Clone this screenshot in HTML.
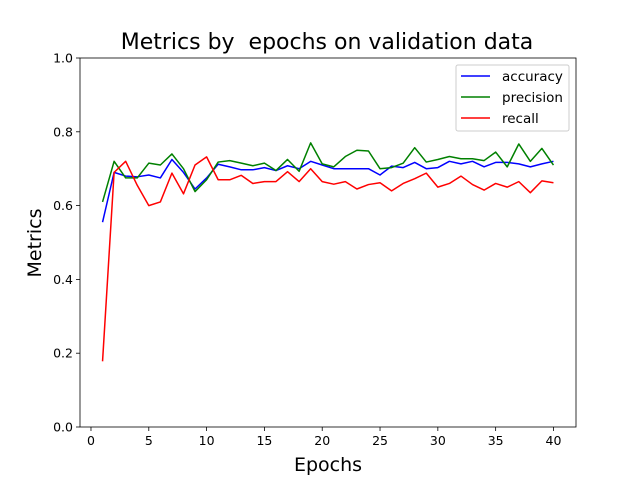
<!DOCTYPE html>
<html><head><meta charset="utf-8"><style>body{margin:0;background:#fff}svg{display:block;font-family:"DejaVu Sans","Liberation Sans",sans-serif}</style></head>
<body>
<svg id="chart" width="640" height="480"></svg>
<script>
const epochs=[];for(let i=1;i<=40;i++)epochs.push(i);
const accuracy=[0.555,0.69,0.68,0.678,0.683,0.675,0.725,0.69,0.645,0.675,0.712,0.705,0.697,0.697,0.703,0.695,0.708,0.7,0.72,0.71,0.7,0.7,0.7,0.7,0.683,0.707,0.703,0.717,0.7,0.703,0.72,0.713,0.72,0.705,0.717,0.717,0.713,0.705,0.713,0.72];
const precision=[0.61,0.72,0.675,0.675,0.715,0.71,0.74,0.7,0.638,0.67,0.718,0.722,0.715,0.708,0.715,0.695,0.725,0.693,0.77,0.713,0.705,0.733,0.75,0.748,0.7,0.703,0.715,0.757,0.718,0.725,0.733,0.727,0.727,0.722,0.745,0.705,0.767,0.72,0.755,0.71];
const recall=[0.178,0.69,0.72,0.655,0.6,0.61,0.688,0.632,0.71,0.732,0.67,0.67,0.682,0.66,0.665,0.665,0.692,0.665,0.7,0.665,0.658,0.665,0.645,0.657,0.662,0.64,0.66,0.673,0.688,0.65,0.66,0.68,0.657,0.642,0.66,0.65,0.665,0.635,0.667,0.662];
const xTicks=[0,5,10,15,20,25,30,35,40];
const yTicks=[0,0.2,0.4,0.6,0.8,1.0];
const L=80,R=576,T=58,B=427,xmin=-0.95,xmax=41.95;
const X=v=>L+(v-xmin)/(xmax-xmin)*(R-L);
const Y=v=>B-v*(B-T);
const svg=document.getElementById('chart');
const NS='http://www.w3.org/2000/svg';
function mk(t,a,p){const e=document.createElementNS(NS,t);for(const k in a)e.setAttribute(k,a[k]);(p||svg).appendChild(e);return e;}
let e;
xTicks.forEach(v=>{
e=mk('line',{x1:X(v),x2:X(v),y1:B,y2:B+4,stroke:'#000','stroke-width':0.8});


e=mk('text',{x:X(v),y:B+18,'font-size':12.5,'text-anchor':'middle'});e.textContent=v;


});
yTicks.forEach(v=>{
e=mk('line',{x1:L-4,x2:L,y1:Y(v),y2:Y(v),stroke:'#000','stroke-width':0.8});


e=mk('text',{x:L-7,y:Y(v)+4.5,'font-size':12.5,'text-anchor':'end'});e.textContent=v.toFixed(1);


});
[[accuracy,'#0000ff','accuracy'],[precision,'#008000','precision'],[recall,'#ff0000','recall']].forEach(([d,c,n])=>{
e=mk('polyline',{points:d.map((v,i)=>X(epochs[i])+','+Y(v)).join(' '),fill:'none',stroke:c,'stroke-width':1.5,'stroke-linejoin':'round'});


});
e=mk('rect',{x:L,y:T,width:R-L,height:B-T,fill:'none',stroke:'#000','stroke-width':0.8});


e=mk('text',{x:327,y:49,'font-size':22,'text-anchor':'middle','xml:space':'preserve',style:'white-space:pre'});e.textContent='Metrics by  epochs on validation data';


e=mk('text',{x:328,y:471,'font-size':19,'text-anchor':'middle'});e.textContent='Epochs';


e=mk('text',{x:41,y:243,'font-size':19,'text-anchor':'middle',transform:'rotate(-90 41 243)'});e.textContent='Metrics';


const lg=mk('g',{});


mk('rect',{x:456,y:65,width:113,height:66,rx:2,fill:'#fff',stroke:'#ccc','stroke-width':1},lg);
[['accuracy','#0000ff'],['precision','#008000'],['recall','#ff0000']].forEach(([n,c],i)=>{
const y=76+i*21;
e=mk('line',{x1:461,x2:490,y1:y,y2:y,stroke:c,'stroke-width':1.5},lg);


e=mk('text',{x:502,y:y+5,'font-size':13.5},lg);e.textContent=n;


});
</script>
</body></html>
